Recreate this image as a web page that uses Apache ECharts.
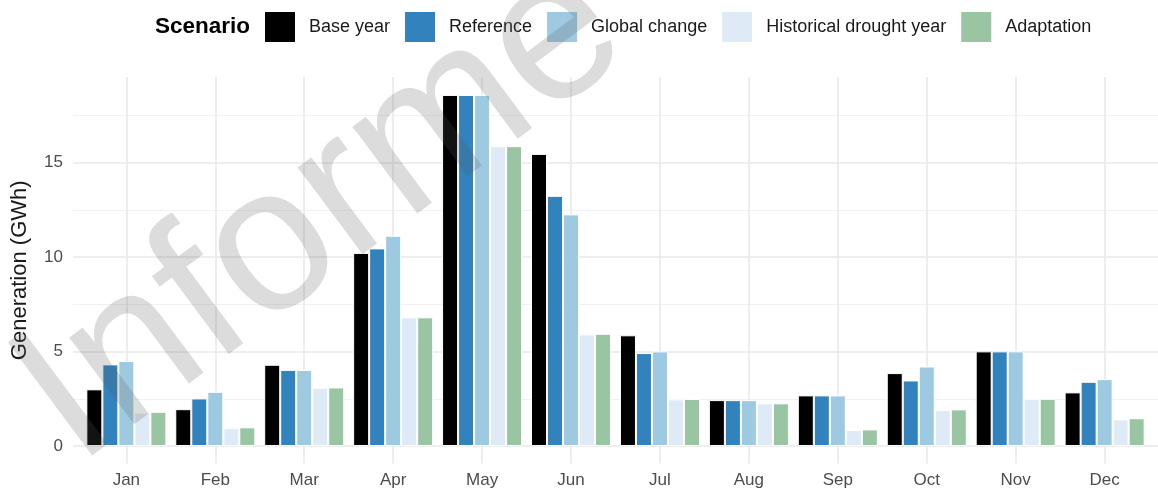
<!DOCTYPE html>
<html>
<head>
<meta charset="utf-8">
<title>Monthly generation by scenario</title>
<script src="https://cdn.jsdelivr.net/npm/echarts@6/dist/echarts.min.js"></script>
<style>
  html, body { margin: 0; padding: 0; background: #ffffff; }
  #chart { width: 1158px; height: 489px; }
</style>
</head>
<body>
<div id="chart"></div>
<script>
// Monthly generation (GWh) under each scenario
const months = ['Jan', 'Feb', 'Mar', 'Apr', 'May', 'Jun', 'Jul', 'Aug', 'Sep', 'Oct', 'Nov', 'Dec'];
const scenarios = ['Base year', 'Reference', 'Global change', 'Historical drought year', 'Adaptation'];
const baseYear     = [3.00, 1.95, 4.30, 10.22, 18.58, 15.46, 5.86, 2.43, 2.68, 3.86, 5.01, 2.84];
const reference    = [4.32, 2.52, 4.03, 10.46, 18.58, 13.24, 4.92, 2.43, 2.68, 3.47, 5.01, 3.40];
const globalChange = [4.50, 2.87, 4.03, 11.13, 18.58, 12.26, 5.01, 2.43, 2.68, 4.21, 5.01, 3.54];
const droughtYear  = [1.77, 0.94, 3.08, 6.81, 15.87, 5.91, 2.47, 2.26, 0.85, 1.90, 2.50, 1.41];
const adaptation   = [1.81, 0.99, 3.10, 6.81, 15.87, 5.94, 2.49, 2.26, 0.88, 1.94, 2.50, 1.47];
const yTicks = [0, 5, 10, 15];
const yMinorTicks = [2.5, 7.5, 12.5, 17.5];

const seriesValues = [baseYear, reference, globalChange, droughtYear, adaptation];
const palette = ['#000000', '#3182bd', '#9ecae1', '#deebf7', '#99c5a3'];
const FONT = "'Liberation Sans', Arial, Helvetica, sans-serif";

// month positions on the x scale: 1..12
const monthPos = months.map((m, i) => i + 1);

const barSeries = scenarios.map((name, s) => ({
  name: name,
  type: 'bar',
  z: 2,
  barWidth: '18%',
  barGap: '0%',
  itemStyle: { color: palette[s], borderColor: '#ffffff', borderWidth: 1 },
  data: seriesValues[s].map((v, i) => [monthPos[i], v]),
  animation: false
}));

// background grid drawn beneath the bars
const gridSeries = {
  name: 'grid',
  type: 'line',
  data: [],
  z: 1,
  silent: true,
  animation: false,
  markLine: {
    z: 1,
    silent: true,
    symbol: 'none',
    animation: false,
    label: { show: false },
    data: [
      ...yMinorTicks.map(v => ({ yAxis: v, lineStyle: { color: '#f1f1f1', width: 1, type: 'solid' } })),
      ...yTicks.map(v => ({ yAxis: v, lineStyle: { color: '#e9e9e9', width: 1.6, type: 'solid' } })),
      ...monthPos.map(v => ({ xAxis: v, lineStyle: { color: '#e9e9e9', width: 1.6, type: 'solid' } }))
    ]
  }
};

const chart = echarts.init(document.getElementById('chart'), null, { renderer: 'canvas' });
chart.setOption({
  backgroundColor: '#ffffff',
  animation: false,
  title: {
    text: 'Scenario',
    left: 155,
    top: 15,
    padding: 0,
    textStyle: { fontFamily: FONT, fontSize: 22.5, fontWeight: 'bold', color: '#000000' }
  },
  legend: {
    data: scenarios,
    left: 263,
    top: 10,
    padding: 0,
    icon: 'rect',
    itemWidth: 32,
    itemHeight: 32,
    itemGap: 13,
    textStyle: { fontFamily: FONT, fontSize: 18, color: '#1a1a1a', padding: [0, 0, 0, 8] }
  },
  grid: { left: 73, top: 77, width: 1098, height: 386.6, containLabel: false },
  xAxis: {
    type: 'value',
    min: 0.4,
    max: 12.6,
    axisLine: { show: false },
    axisTick: { show: false },
    splitLine: { show: false },
    axisLabel: {
      customValues: monthPos,
      formatter: v => months[Math.round(v) - 1],
      fontFamily: FONT,
      fontSize: 17,
      color: '#4d4d4d',
      margin: 8
    }
  },
  yAxis: {
    type: 'value',
    min: -0.93,
    max: 19.53,
    name: 'Generation (GWh)',
    nameLocation: 'middle',
    nameRotate: 90,
    nameGap: 42,
    nameTextStyle: { fontFamily: FONT, fontSize: 22, color: '#1a1a1a' },
    axisLine: { show: false },
    axisTick: { show: false },
    splitLine: { show: false },
    axisLabel: {
      customValues: yTicks,
      fontFamily: FONT,
      fontSize: 17,
      color: '#4d4d4d',
      margin: 10
    }
  },
  graphic: [{
    type: 'text',
    z: 100,
    silent: true,
    x: 322,
    y: 214,
    rotation: 0.64,
    style: {
      text: 'Informe',
      font: "205px 'Liberation Sans', Arial, sans-serif",
      fill: 'rgba(90, 90, 90, 0.21)',
      align: 'center',
      verticalAlign: 'middle'
    }
  }],
  series: [gridSeries, ...barSeries]
});
</script>
</body>
</html>
